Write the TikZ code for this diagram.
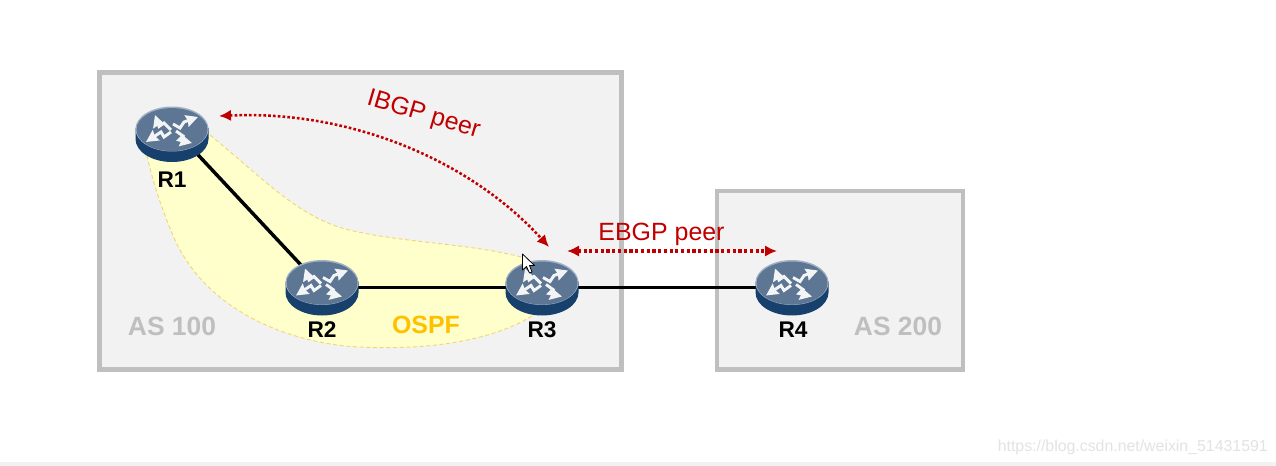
\documentclass[tikz,border=0pt]{standalone}
\usepackage{fontspec}
\setmainfont{Liberation Sans}
\usetikzlibrary{arrows.meta,calc}
\definecolor{zonefill}{HTML}{F2F2F2}
\definecolor{zoneline}{HTML}{BFBFBF}
\definecolor{peerred}{HTML}{C00000}
\definecolor{ospfline}{HTML}{F2D675}
\definecolor{ospffill}{HTML}{FFFFCC}
\definecolor{ospftext}{HTML}{FFC000}
\definecolor{routertop}{HTML}{5D7693}
\definecolor{routerrim}{HTML}{9FB0C4}
\definecolor{routerside}{HTML}{17406D}
\tikzset{
  x=0.75pt,y=-0.75pt,
  zone/.style={draw=zoneline,fill=zonefill,line width=3.6pt},
  link/.style={draw=black,line width=2.6pt},
  peer/.style={draw=peerred,line width=2.5pt,dash pattern=on 2.4pt off 1.9pt,
    {Latex[length=9pt,width=8.5pt]}-{Latex[length=9pt,width=8.5pt]}},
  peercurve/.style={peer,line width=1.9pt,dash pattern=on 2pt off 1.6pt},
  routeranchor/.style={circle,inner sep=0pt,minimum size=54pt},
  routername/.style={font=\fontsize{17}{18}\selectfont\bfseries,text=black,inner sep=0pt},
  asname/.style={font=\fontsize{19.8}{22}\selectfont\bfseries,text=zoneline,inner sep=0pt},
  peername/.style={font=\fontsize{18.7}{22}\selectfont,text=peerred,inner sep=0pt},
  arrowglyph/.style={draw=white!92!routertop,line width=2.2pt,-{Stealth[length=9pt,width=9pt,inset=1pt]},line join=miter},
  pics/router/.style={code={
    % puck body, then its lighter rim and top face
    \fill[routerside] (-36.5,-1) -- (-36.5,10) arc[start angle=180,end angle=0,x radius=36.5,y radius=23] -- (36.5,-1) -- cycle;
    \fill[routerrim] (0,0) ellipse[x radius=36.5,y radius=22.5];
    \fill[routertop] (0,0.6) ellipse[x radius=35.5,y radius=21.5];
    % the four bent routing arrows
    \draw[arrowglyph] (-1,1) -- (-8,-6) -- (-13,-2.5) -- (-17,-14);
    \draw[arrowglyph] (1,-5) -- (8,-1) -- (12,-7) -- (26,-12);
    \draw[arrowglyph] (-1,3) -- (-8,8) -- (-11,3) -- (-26,13);
    \draw[arrowglyph] (4,2) -- (11,7) -- (7,11) -- (20,14);
  }}
}
\begin{document}
\begin{tikzpicture}
\useasboundingbox (0,0) rectangle (1276,466);
\fill[white] (0,0) rectangle (1276,466);
\fill[black!5] (0,462) rectangle (1276,466);

% autonomous systems
\draw[zone] (99.5,72.5) rectangle (621.5,369.5);
\draw[zone] (717,191) rectangle (963,369.5);

% OSPF area
\path[draw=ospfline,fill=ospffill,line width=0.7pt,dash pattern=on 3pt off 2pt]
  (205,131) .. controls (260,175) and (295,215) .. (345,229)
  .. controls (400,243) and (470,243) .. (525,258)
  -- (532,316)
  .. controls (490,342) and (420,352) .. (345,346)
  .. controls (275,338) and (205,305) .. (175,240)
  .. controls (162,210) and (152,180) .. (147,155) -- cycle;

% router positions, taken where the links meet
\node[routeranchor] (r1) at (172,127) {};
\node[routeranchor] (r2) at (322,287.5) {};
\node[routeranchor] (r3) at (542,287.5) {};
\node[routeranchor] (r4) at (792,287.5) {};

% physical links
\draw[link] (r1.center) -- (r2.center);
\draw[link] (r2.center) -- (r3.center);
\draw[link] (r3.center) -- (r4.center);

% routers on top of the links
\pic at ($(r1.center)+(0,2)$) {router};
\foreach \r in {r2,r3,r4} \pic at ($(\r.center)+(0,-5)$) {router};

\node[routername] (n1) at (172,179.5) {R1};
\node[routername] (n2) at (322,330) {R2};
\node[routername] (n3) at (542,330) {R3};
\node[routername] (n4) at (793,330) {R4};

\node[asname] (as100) at (172,326) {AS 100};
\node[asname] (as200) at (898,326) {AS 200};
\node[font=\fontsize{18.7}{22}\selectfont\bfseries,text=ospftext,inner sep=0pt] (ospf) at (426,325) {OSPF};

% BGP sessions
\coordinate (ibgpa) at (219,116);
\coordinate (ibgpb) at (549,247);
\coordinate (ebgpa) at (567,251);
\coordinate (ebgpb) at (777,251);
\draw[peercurve] (ibgpa) .. controls (350,110) and (470,160) .. (ibgpb);
\draw[peer] (ebgpa) -- (ebgpb);
\node[peername,rotate=-16.5] (ibgp) at (423.5,115) {IBGP peer};
\node[peername] (ebgp) at (661.5,234.5) {EBGP peer};

% mouse pointer
\draw[fill=white,draw=black,line width=0.6pt,line join=round]
  (522.5,254) -- (522.5,270) -- (526.5,266.5) -- (529.5,273) -- (532,272) -- (529.5,265.5) -- (534.5,265.5) -- cycle;

% site address
\node[font=\fontsize{11.9}{15}\selectfont,text=black!11,inner sep=0pt,anchor=east] (site) at (1268,447) {https://blog.csdn.net/weixin\_51431591};
\end{tikzpicture}
\end{document}
